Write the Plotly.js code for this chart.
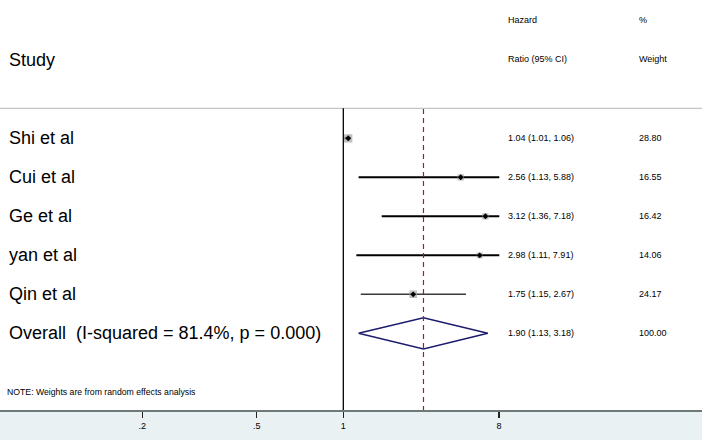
<!DOCTYPE html>
<html>
<head>
<meta charset="utf-8">
<script src="https://cdn.plot.ly/plotly-3.0.1.min.js"></script>
<style>
  html, body { margin: 0; padding: 0; background: #fff; }
  #plot { width: 702px; height: 440px; }
</style>
</head>
<body>
<div id="plot"></div>
<script>
// study rows (top to bottom)
var studies = ["Shi et al", "Cui et al", "Ge et al", "yan et al", "Qin et al"];
var hr = [1.04, 2.56, 3.12, 2.98, 1.75];
var lower = [1.01, 1.13, 1.36, 1.11, 1.15];
var upper = [1.06, 5.88, 7.18, 7.91, 2.67];
var hrText = ["1.04 (1.01, 1.06)", "2.56 (1.13, 5.88)", "3.12 (1.36, 7.18)",
              "2.98 (1.11, 7.91)", "1.75 (1.15, 2.67)"];
var weights = ["28.80", "16.55", "16.42", "14.06", "24.17"];
var weightVal = [28.80, 16.55, 16.42, 14.06, 24.17];

// pooled estimate
var overallLabel = "Overall  (I-squared = 81.4%, p = 0.000)";
var overallHr = 1.90, overallLo = 1.13, overallHi = 3.18;
var overallText = "1.90 (1.13, 3.18)";
var overallWeight = "100.00";

// axis ticks (the "8" label sits at the right end of the axis in the original)
var tickVals = [0.2, 0.5, 1, 3.48];
var tickText = [".2", ".5", "1", "8"];

var font = "Liberation Sans, Arial, sans-serif";
var W = 702, PH = 411; // plot area height in px
function px(x) { return x / W; }
function py(y) { return (PH - y) / PH; }

var rows = studies.map(function(s, i){ return i + 1; });
var overallRow = studies.length + 1;

var data = [];

// CI lines
for (let i = 0; i < studies.length; i++){
	data.push({
		type: "scatter", mode: "lines",
		x: [lower[i], upper[i]], y: [rows[i], rows[i]],
		line: {color: i == 4 ? "#3a3a3a" : "#000000", width: i == 4 ? 1.4 : 2},
		hoverinfo: "skip", showlegend: false
	});
}

// weight boxes
data.push({
	type: "scatter", mode: "markers",
	x: hr, y: rows,
	marker: {symbol: "square", color: "#a4a4a4",
		size: weightVal.map(function(w){ return Math.sqrt(w) * 1.55; }),
		line: {width: 0}},
	showlegend: false
});
// point estimates
data.push({
	type: "scatter", mode: "markers",
	x: hr, y: rows,
	marker: {symbol: "diamond", color: "#000000", size: 4.5, line: {width: 0}},
	showlegend: false
});

// overall diamond
var dh = 0.4;
data.push({
	type: "scatter", mode: "lines",
	x: [overallLo, overallHr, overallHi, overallHr, overallLo],
	y: [overallRow, overallRow - dh, overallRow, overallRow + dh, overallRow],
	line: {color: "#1c1c6e", width: 1.5},
	showlegend: false, hoverinfo: "skip"
});

var ann = [];
function txt(text, x, y, size, yref){
	ann.push({text: text, x: x, y: y, xref: "paper", yref: yref || "paper",
		xanchor: "left", yanchor: "middle", showarrow: false,
		font: {family: font, size: size, color: "#000000"}});
}

txt("Study", px(7), py(60), 18);
txt("Hazard", px(505.5), py(20), 9);
txt("Ratio (95% CI)", px(505.5), py(59.5), 9);
txt("%", px(637), py(20), 9);
txt("Weight", px(637), py(59.5), 9);

for (let i = 0; i < studies.length; i++){
	txt(studies[i], px(7), rows[i], 18, "y");
	txt(hrText[i], px(505.5), rows[i], 9, "y");
	txt(weights[i], px(637), rows[i], 9, "y");
}
txt(overallLabel, px(7), overallRow, 18, "y");
txt(overallText, px(505.5), overallRow, 9, "y");
txt(overallWeight, px(637), overallRow, 9, "y");
txt("NOTE: Weights are from random effects analysis", px(5), py(391.5), 8.7);

var topLine = py(108.3);

var shapes = [
	{type: "rect", xref: "paper", yref: "paper", x0: px(2), x1: 1, y0: 0, y1: 1,
		fillcolor: "#ffffff", line: {width: 0}, layer: "below"},
	{type: "line", xref: "paper", yref: "paper", x0: 0, x1: 1, y0: topLine, y1: topLine,
		line: {color: "#c4c4c4", width: 1.3}},
	{type: "line", xref: "x", yref: "paper", x0: 1, x1: 1, y0: 0, y1: topLine,
		line: {color: "#000000", width: 1.3}},
	{type: "line", xref: "x", yref: "paper", x0: overallHr, x1: overallHr, y0: 0, y1: topLine,
		line: {color: "#8e2438", width: 1.2, dash: "5px,4px"}},
	{type: "line", xref: "paper", yref: "paper", x0: 0, x1: 1, y0: 0, y1: 0,
		line: {color: "#6e7a7a", width: 2}}
];

var layout = {
	width: 702, height: 440,
	margin: {l: 0, r: 0, t: 0, b: 29},
	paper_bgcolor: "#e9f1f3",
	plot_bgcolor: "#ffffff",
	showlegend: false,
	xaxis: {type: "log", domain: [0, 499.3 / W],
		range: [-1.1937, 0.5424],
		tickvals: tickVals, ticktext: tickText,
		ticks: "outside", ticklen: 6, tickcolor: "#222222", tickwidth: 1.3,
		showgrid: false, zeroline: false, showline: false,
		tickfont: {family: font, size: 9, color: "#000000"}},
	yaxis: {range: [7.992, -2.546], showgrid: false, zeroline: false,
		showline: false, showticklabels: false, ticks: ""},
	annotations: ann,
	shapes: shapes
};

Plotly.newPlot("plot", data, layout, {staticPlot: true});
</script>
</body>
</html>
